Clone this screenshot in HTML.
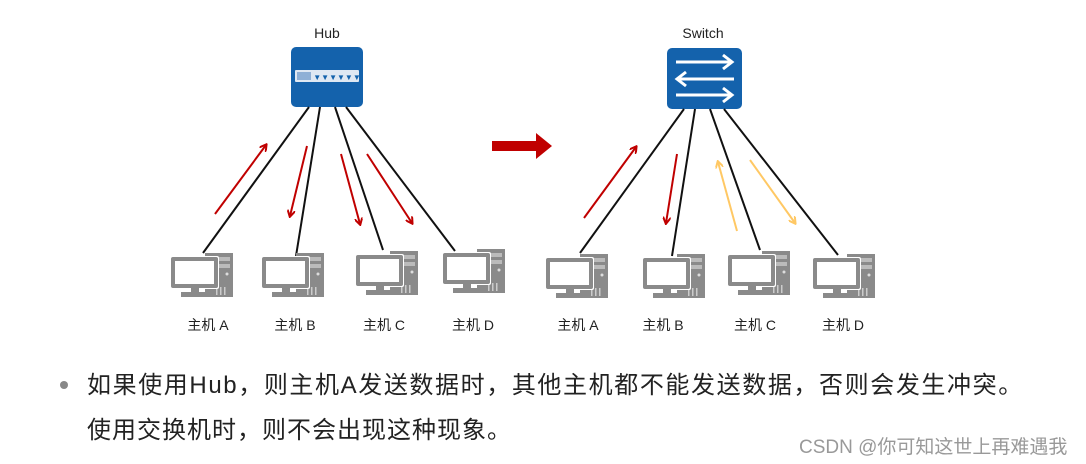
<!DOCTYPE html>
<html><head><meta charset="utf-8"><style>
body{margin:0;background:#fff;width:1086px;height:464px;overflow:hidden;position:relative;font-family:"Liberation Sans","Noto Sans CJK SC",sans-serif}
.t{position:absolute;white-space:nowrap;color:#222;font-size:24px}
</style></head><body>
<svg width="1086" height="464" style="position:absolute;left:0;top:0" font-family="Liberation Sans, Noto Sans CJK SC, sans-serif">
<defs>
<g id="pc">
<rect x="34" y="-4" width="28" height="44" fill="#8a8a8a"/>
<rect x="37" y="0" width="22" height="4" fill="#bbb"/>
<rect x="37" y="7" width="22" height="4" fill="#bbb"/>
<circle cx="56" cy="17" r="1.5" fill="#ddd"/>
<rect x="45" y="30" width="1.5" height="8" fill="#ccc"/><rect x="49" y="30" width="1.5" height="8" fill="#ccc"/><rect x="53" y="30" width="1.5" height="8" fill="#ccc"/>
<rect x="-1" y="-1" width="49" height="33" rx="2" fill="#fff"/>
<rect x="0" y="0" width="47" height="31" rx="2" fill="#8a8a8a"/>
<rect x="4" y="4" width="39" height="23" fill="#fff"/>
<rect x="20" y="31" width="8" height="4" fill="#8a8a8a"/>
<rect x="10" y="35" width="34" height="5" fill="#8a8a8a"/>
</g>
<marker id="mr" markerWidth="8" markerHeight="8" refX="6" refY="4" orient="auto" markerUnits="userSpaceOnUse"><path d="M0,0 L7,4 L0,8" fill="none" stroke="#c00000" stroke-width="2"/></marker>
<marker id="mo" markerWidth="8" markerHeight="8" refX="6" refY="4" orient="auto" markerUnits="userSpaceOnUse"><path d="M0,0 L7,4 L0,8" fill="none" stroke="#ffc864" stroke-width="2"/></marker>
</defs>
<text x="327" y="38" font-size="14" text-anchor="middle" fill="#222">Hub</text>
<rect x="291" y="47" width="72" height="60" rx="5" fill="#1462ac"/>
<rect x="295" y="70" width="64" height="12" rx="1" fill="#dfe8f3"/>
<rect x="297" y="72" width="14" height="8" fill="#8fb0d6"/>
<text x="337" y="80" font-size="8" text-anchor="middle" fill="#1462ac">▼▼▼▼▼▼</text>
<g stroke="#111" stroke-width="2">
<line x1="309" y1="107" x2="203" y2="253"/><line x1="320" y1="107" x2="296" y2="256"/>
<line x1="335" y1="107" x2="383" y2="250"/><line x1="346" y1="107" x2="455" y2="251"/>
</g>
<use href="#pc" x="171" y="257"/><use href="#pc" x="262" y="257"/><use href="#pc" x="356" y="255"/><use href="#pc" x="443" y="253"/>
<g stroke="#c00000" stroke-width="2" marker-end="url(#mr)">
<line x1="215" y1="214" x2="266" y2="145"/><line x1="307" y1="146" x2="290" y2="216"/>
<line x1="341" y1="154" x2="360" y2="224"/><line x1="367" y1="154" x2="412" y2="223"/>
</g>
<g font-size="14" fill="#222" text-anchor="middle">
<text x="208" y="330">主机 A</text><text x="295" y="330">主机 B</text><text x="384" y="330">主机 C</text><text x="473" y="330">主机 D</text>
</g>
<polygon points="492,141 536,141 536,133 552,146 536,159 536,151 492,151" fill="#c00000"/>
<text x="703" y="38" font-size="14" text-anchor="middle" fill="#222">Switch</text>
<rect x="667" y="48" width="75" height="61" rx="5" fill="#1462ac"/>
<g stroke="#fff" stroke-width="3" fill="none">
<line x1="676" y1="62" x2="731" y2="62"/><path d="M723,55 L732,62 L723,69"/>
<line x1="678" y1="79" x2="734" y2="79"/><path d="M686,72 L677,79 L686,86"/>
<line x1="676" y1="95" x2="731" y2="95"/><path d="M723,88 L732,95 L723,102"/>
</g>
<g stroke="#111" stroke-width="2">
<line x1="684" y1="109" x2="580" y2="253"/><line x1="695" y1="109" x2="672" y2="256"/>
<line x1="710" y1="109" x2="760" y2="250"/><line x1="724" y1="109" x2="838" y2="255"/>
</g>
<use href="#pc" x="546" y="258"/><use href="#pc" x="643" y="258"/><use href="#pc" x="728" y="255"/><use href="#pc" x="813" y="258"/>
<g stroke="#c00000" stroke-width="2" marker-end="url(#mr)">
<line x1="584" y1="218" x2="636" y2="147"/><line x1="677" y1="154" x2="666" y2="223"/>
</g>
<g stroke="#ffc864" stroke-width="2" marker-end="url(#mo)">
<line x1="737" y1="231" x2="718" y2="162"/><line x1="750" y1="160" x2="795" y2="223"/>
</g>
<g font-size="14" fill="#222" text-anchor="middle">
<text x="578" y="330">主机 A</text><text x="663" y="330">主机 B</text><text x="755" y="330">主机 C</text><text x="843" y="330">主机 D</text>
</g>
<circle cx="64" cy="385" r="4" fill="#888"/>
</svg>
<div class="t" style="left:87px;top:365px;letter-spacing:1.6px">如果使用Hub，则主机A发送数据时，其他主机都不能发送数据，否则会发生冲突。</div>
<div class="t" style="left:87px;top:410px;letter-spacing:1px">使用交换机时，则不会出现这种现象。</div>
<div class="t" style="left:799px;top:432px;font-size:19px;color:#999">CSDN @你可知这世上再难遇我</div>
</body></html>
